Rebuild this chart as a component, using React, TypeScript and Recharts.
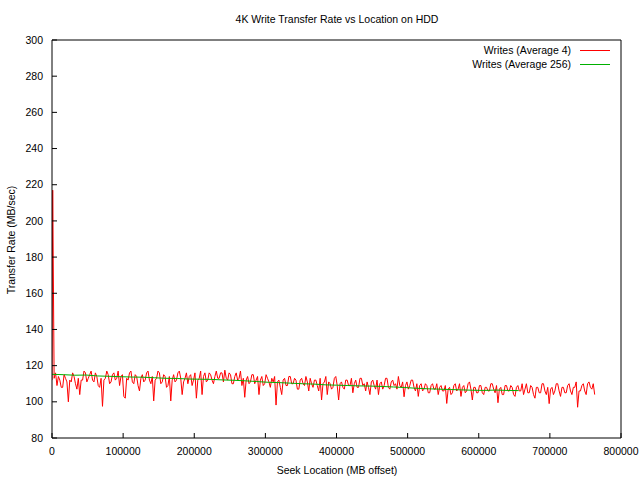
import React from "react"
import { LineChart, Line, XAxis, YAxis } from "recharts"

const FONT = '"Liberation Sans", Arial, Helvetica, sans-serif'

const xTicks = [0, 100000, 200000, 300000, 400000, 500000, 600000, 700000, 800000]
const yTicks = [80, 100, 120, 140, 160, 180, 200, 220, 240, 260, 280, 300]

// start-up burst right at the beginning of the disk
const spikeX = [0, 1000]
const spikeRate = [112, 217]

// Average 4 samples, one every 2000 MB starting at 3000 MB
const redStartMB = 3000
const redStepMB = 2000
const avg4Rate = [
  113, 116, 109, 114, 112, 108, 108, 115, 113, 111, 100, 112, 111, 116, 114, 110, 107, 113, 104, 112,
  112, 117, 116, 111, 113, 115, 117, 112, 111, 116, 114, 109, 108, 113, 97.5, 112, 113, 117, 115, 110,
  111, 115, 116, 112, 113, 117, 109, 114, 115, 103, 102, 113, 112, 116, 117, 111, 110, 115, 114, 109,
  106, 113, 115, 111, 112, 116, 117, 112, 110, 114, 100.5, 112, 113, 117, 116, 110, 111, 115, 114, 108,
  109, 114, 100.5, 112, 115, 111, 112, 116, 117, 113, 104, 111, 113, 116, 110, 114, 115, 109, 112, 116,
  102, 112, 113, 117, 104, 114, 116, 111, 112, 116, 115, 112, 110, 114, 117, 113, 113, 116, 116, 111,
  117.5, 113, 112, 116, 115, 110, 110, 114, 116, 112, 113, 117, 109, 113, 102.5, 112, 114, 110, 111, 115,
  115, 110, 112, 114, 104, 112, 114, 109, 110, 115, 113, 111, 108, 113, 111, 114, 98.2, 111, 112, 108,
  104, 112, 113, 109, 109, 114, 114, 110, 110, 113, 112, 107, 107, 112, 113, 110, 109, 114, 111, 106,
  113, 110, 108, 112, 112, 109, 106, 113, 101, 110, 111, 114, 104, 111, 110, 107, 108, 113, 114, 109,
  101, 110, 111, 108, 107, 112, 112, 109, 109, 113, 105, 110, 112, 108, 108, 113, 113, 109, 110, 106,
  111, 108, 104, 111, 112, 109, 107, 112, 104, 110, 111, 107, 109, 113, 113, 108, 107, 111, 112, 109,
  110, 107, 114, 109, 108, 111, 102.8, 109, 111, 107, 109, 112, 112, 108, 106, 110, 103, 109, 110, 106,
  107, 110, 109, 105, 105, 109, 110, 107, 107, 110, 104, 108, 109, 106, 106, 109, 99.1, 107, 108, 104,
  105, 109, 110, 106, 107, 110, 103, 108, 109, 105, 106, 110, 111, 107, 101, 108, 108, 105, 105, 109,
  109, 105, 104, 108, 108, 106, 106, 110, 110, 107, 105, 109, 99.5, 107, 108, 104, 104, 109, 109, 106,
  106, 109, 108, 104, 103, 108, 109, 106, 106, 110, 104, 107, 110, 105, 105, 109, 108, 104, 102, 108,
  108, 105, 105, 110, 110, 106, 104, 108, 99, 107, 108, 104, 106, 110, 110, 106, 103, 108, 108, 105,
  105, 109, 110, 106, 104, 108, 108, 111, 97, 106, 106, 109, 110, 106, 104, 110, 111, 108, 107, 110,
  104,
]

// Average 256 samples, one every 16000 MB
const greenStepMB = 16000
const avg256Rate = [
  115.2, 115.0, 114.7, 114.8, 114.3, 114.1, 113.9, 113.7, 113.6, 113.3,
  113.0, 112.9, 112.6, 112.5, 112.4, 112.1, 111.9, 111.6, 111.2, 110.8,
  110.6, 110.3, 110.0, 109.8, 109.4, 109.2, 109.0, 108.8, 108.7, 108.5,
  108.2, 107.9, 107.5, 107.2, 107.0, 106.8, 106.6, 106.4, 106.3, 106.5,
  106.3, 106.2,
]

const seriesNames = ["Writes (Average 4)", "Writes (Average 256)"]
const seriesColors = ["#ff0000", "#00b000"]

const avg4Data = [
  ...spikeX.map((x, i) => ({ x, rate: spikeRate[i] })),
  ...avg4Rate.map((rate, i) => ({ x: redStartMB + i * redStepMB, rate })),
]
const avg256Data = avg256Rate.map((rate, i) => ({ x: i * greenStepMB, rate }))

const TICK_LEN = 5
const textStyle = { fontFamily: FONT, fontSize: 10.5, fill: "#000" }

function LeftTick(props: any) {
  const { x, y, payload } = props
  return (
    <g>
      <line x1={x} y1={y} x2={x + TICK_LEN} y2={y} stroke="#000" />
      <text x={x - 9} y={y} dy="0.35em" textAnchor="end" {...textStyle}>
        {payload.value}
      </text>
    </g>
  )
}

function RightTick(props: any) {
  const { x, y } = props
  return <line x1={x - TICK_LEN} y1={y} x2={x} y2={y} stroke="#000" />
}

function BottomTick(props: any) {
  const { x, y, payload } = props
  return (
    <g>
      <line x1={x} y1={y} x2={x} y2={y - TICK_LEN} stroke="#000" />
      <text x={x} y={y + 13} dy="0.35em" textAnchor="middle" {...textStyle}>
        {payload.value}
      </text>
    </g>
  )
}

function TopTick(props: any) {
  const { x, y } = props
  return <line x1={x} y1={y} x2={x} y2={y + TICK_LEN} stroke="#000" />
}

const labelStyle: React.CSSProperties = {
  position: "absolute",
  fontFamily: FONT,
  fontSize: 10.5,
  color: "#000",
  whiteSpace: "nowrap",
  lineHeight: "12px",
}

export default function App() {
  return (
    <div style={{ position: "absolute", left: 0, top: 0, width: 640, height: 480, background: "#fff" }}>
      <LineChart width={640} height={480} margin={{ top: 39, right: 18, bottom: 0, left: 0 }}>
        <XAxis
          xAxisId="bottom"
          type="number"
          dataKey="x"
          domain={[0, 800000]}
          ticks={xTicks}
          interval={0}
          height={42}
          tickSize={0}
          tickMargin={0}
          tickLine={false}
          axisLine={{ stroke: "#000" }}
          tick={(p: any) => <BottomTick {...p} />}
          allowDataOverflow
        />
        <XAxis
          xAxisId="top"
          orientation="top"
          type="number"
          dataKey="x"
          domain={[0, 800000]}
          ticks={xTicks}
          interval={0}
          height={1}
          tickSize={0}
          tickMargin={0}
          tickLine={false}
          axisLine={{ stroke: "#000" }}
          tick={(p: any) => <TopTick {...p} />}
        />
        <YAxis
          yAxisId="left"
          type="number"
          domain={[80, 300]}
          ticks={yTicks}
          interval={0}
          width={52}
          tickSize={0}
          tickMargin={0}
          tickLine={false}
          axisLine={{ stroke: "#000" }}
          tick={(p: any) => <LeftTick {...p} />}
          allowDataOverflow
        />
        <YAxis
          yAxisId="right"
          orientation="right"
          type="number"
          domain={[80, 300]}
          ticks={yTicks}
          interval={0}
          width={1}
          tickSize={0}
          tickMargin={0}
          tickLine={false}
          axisLine={{ stroke: "#000" }}
          tick={(p: any) => <RightTick {...p} />}
        />
        <Line
          xAxisId="bottom"
          yAxisId="left"
          data={avg4Data}
          dataKey="rate"
          type="linear"
          stroke={seriesColors[0]}
          strokeWidth={1}
          dot={false}
          isAnimationActive={false}
          name={seriesNames[0]}
        />
        <Line
          xAxisId="bottom"
          yAxisId="left"
          data={avg256Data}
          dataKey="rate"
          type="linear"
          stroke={seriesColors[1]}
          strokeWidth={1}
          dot={false}
          isAnimationActive={false}
          name={seriesNames[1]}
        />
      </LineChart>

      <div style={{ ...labelStyle, left: 52, width: 570, top: 13, textAlign: "center" }}>
        4K Write Transfer Rate vs Location on HDD
      </div>
      <div style={{ ...labelStyle, left: 52, width: 570, top: 464, textAlign: "center" }}>
        Seek Location (MB offset)
      </div>
      <div
        style={{
          ...labelStyle,
          left: 11,
          top: 240,
          transform: "translate(-50%, -50%) rotate(-90deg)",
        }}
      >
        Transfer Rate (MB/sec)
      </div>

      <div style={{ position: "absolute", top: 43, right: 30 }}>
        {seriesNames.map((name, i) => (
          <div
            key={name}
            style={{ display: "flex", alignItems: "center", justifyContent: "flex-end", height: 14 }}
          >
            <span style={{ ...labelStyle, position: "static" }}>{name}</span>
            <span
              style={{ display: "inline-block", width: 30, marginLeft: 9, borderTop: `1px solid ${seriesColors[i]}` }}
            />
          </div>
        ))}
      </div>
    </div>
  )
}
